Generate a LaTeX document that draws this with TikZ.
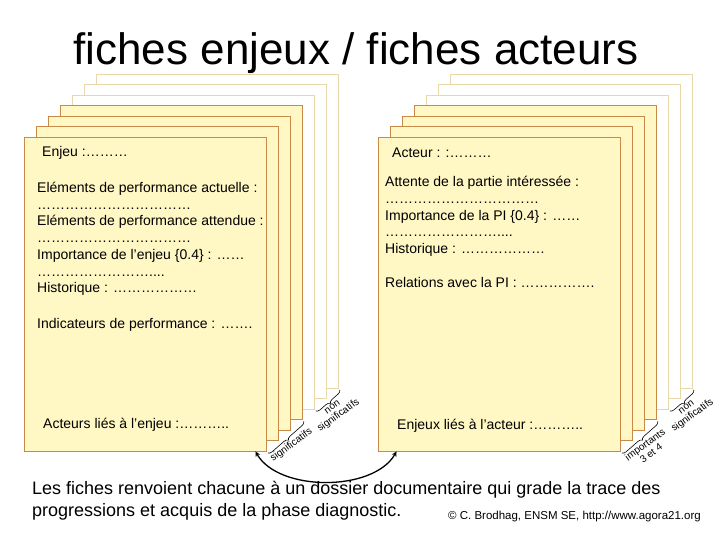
\documentclass[tikz,border=0pt]{standalone}
\usepackage{fontspec}
\setmainfont{Liberation Sans}
\usetikzlibrary{decorations.pathreplacing}
\definecolor{fichefond}{RGB}{255,247,196}
\definecolor{fichebord}{RGB}{201,138,72}
\definecolor{fichepale}{RGB}{233,216,170}
\newcommand{\pile}[3]{%
 \foreach \k in {6,5,4} {%
  \node[fichevide] ({#1\k}) at ({#2+12*\k},{#3+10.5*\k}) {};%
 }%
 \foreach \k in {3,2,1,0} {%
  \node[fiche] ({#1\k}) at ({#2+12*\k},{#3+10.5*\k}) {};%
 }%
}

\begin{document}
\begin{tikzpicture}[x=1pt,y=1pt,
  fiche/.style={draw=fichebord,fill=fichefond,line width=.9pt,minimum width=242pt,minimum height=314pt,inner sep=0pt},
  fichevide/.style={fiche,draw=fichepale,fill=white},
  texte/.style={anchor=west,inner sep=0pt,align=left,font=\fontsize{14}{16.75}\selectfont},
  etiq/.style={inner sep=7pt,anchor=north,rotate=36,align=center,font=\fontsize{10}{10.5}\selectfont},
  accolade/.style={decorate,decoration={brace,mirror,amplitude=4pt,raise=2pt},line width=.6pt}]
   \useasboundingbox (0,0) rectangle (720,540);
   \node[inner sep=0pt,anchor=base,font=\fontsize{44}{48}\selectfont] (titre) at (356,475) {fiches enjeux / fiches acteurs};
   \pile{e}{145}{246}
   \pile{a}{499}{246}
   \node[texte] (enjeu) at (42,387) {Enjeu :………};
   \node[texte] (perf) at (37,301) {Eléments de performance actuelle :\\……………………………\\Eléments de performance attendue :\\……………………………\\Importance de l'enjeu \{0.4\} : ……\\……………………....\\Historique : ………………};
   \node[texte] (indic) at (37,215) {Indicateurs de performance : …….};
   \node[texte] (acteurslies) at (43,115) {Acteurs liés à l'enjeu :………..};
   \node[texte] (acteur) at (392,387) {Acteur : :………};
   \node[texte] (attente) at (385,323.5) {Attente de la partie intéressée :\\……………………………\\Importance de la PI \{0.4\} : ……\\……………………....\\Historique : ………………};
   \node[texte] (relations) at (385,257) {Relations avec la PI : …………….};
   \node[texte] (enjeuxlies) at (397,114) {Enjeux liés à l'acteur :………..};
   \draw[accolade] (e0.south east) -- coordinate[midway] (m1) (e3.south east);
   \node[etiq] (sig1) at (m1) {significatifs};
   \draw[accolade] (e4.south east) -- coordinate[midway] (m2) (e6.south east);
   \node[etiq] (nonsig1) at (m2) {non\\significatifs};
   \draw[accolade] (a0.south east) -- coordinate[midway] (m3) (a3.south east);
   \node[etiq] (imp) at (m3) {importants\\3 et 4};
   \draw[accolade] (a4.south east) -- coordinate[midway] (m4) (a6.south east);
   \node[etiq] (nonsig2) at (m4) {non\\significatifs};
   \draw[<->,>=stealth,line width=1.3pt] ([xshift=-11pt]e0.south east) to[out=-60,in=-120,looseness=.85] ([xshift=19pt]a0.south west);
   \node[anchor=west,inner sep=0pt,align=left,font=\fontsize{18}{22}\selectfont] (legende) at (32,39) {Les fiches renvoient chacune à un dossier documentaire qui grade la trace des\\progressions et acquis de la phase diagnostic.};
   \node[anchor=east,inner sep=0pt,font=\fontsize{11.5}{12}\selectfont] (copyright) at (701,23) {© C. Brodhag, ENSM SE, http://www.agora21.org};
  \end{tikzpicture}
\end{document}
